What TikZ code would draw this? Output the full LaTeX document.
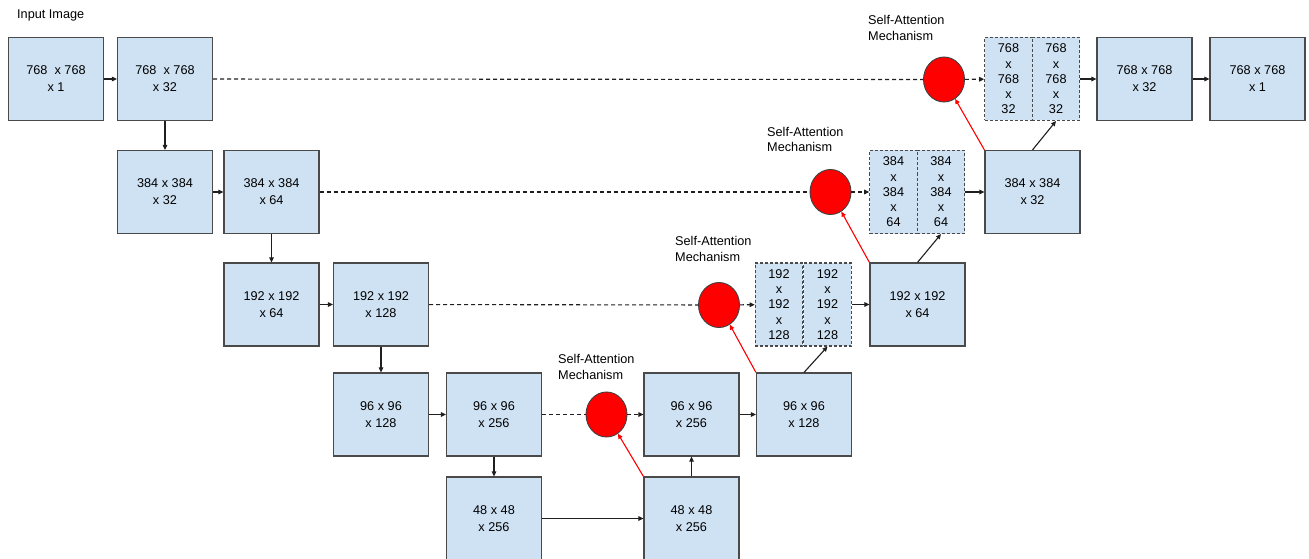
\documentclass[tikz,border=0pt]{standalone}
\usepackage{fontspec}
\setmainfont{Liberation Sans}
\usetikzlibrary{arrows.meta,shapes.geometric}
\definecolor{boxfill}{HTML}{CFE2F3}
\definecolor{boxline}{HTML}{4A4A4A}
\definecolor{attred}{HTML}{FF0000}
\definecolor{lnk}{HTML}{1F1F1F}
\begin{document}
\begin{tikzpicture}[x=1pt,y=-1pt,
  blk/.style={draw=boxline,fill=boxfill,line width=1.2pt,minimum width=95pt,minimum height=83pt,inner sep=0pt,align=center,font=\fontsize{12.7}{17}\selectfont},
  cat/.style={draw=boxline,fill=boxfill,line width=1.1pt,dash pattern=on 3pt off 2pt,minimum width=47.5pt,minimum height=83pt,inner sep=0pt,align=center,font=\fontsize{12.7}{15.3}\selectfont},
  att/.style={ellipse,draw=black!75,fill=attred,line width=0.9pt,minimum width=41pt,minimum height=45pt,inner sep=0pt},
  lbl/.style={anchor=west,align=left,inner sep=0pt,font=\fontsize{12.7}{15.5}\selectfont},
  tip/.style={-{Triangle[length=5pt,width=4.5pt]}},
  conn/.style={draw=lnk,line width=1.1pt,tip},
  skip/.style={draw=lnk,line width=1.1pt,dash pattern=on 4pt off 3pt},
  skiparrow/.style={skip,tip},
  attarrow/.style={draw=attred,line width=1.1pt,tip}
]
\useasboundingbox (0,0) rectangle (1309,559);
\clip (0,0) rectangle (1309,559);
\fill[white] (0,0) rectangle (1309,559);

\node[lbl] (inlbl) at (17,15) {Input Image};

% row 1
\node[blk] (A1) at (56,79) {768~ x 768\\x 1};
\node[blk] (A2) at (165,79) {768~ x 768\\x 32};
\node[att] (circ1) at (944,79.5) {};
\node[cat] (cat1L) at (1008.5,79) {768\\x\\768\\x\\32};
\node[cat] (cat1R) at (1056,79) {768\\x\\768\\x\\32};
\node[blk] (A3) at (1144.5,79) {768 x 768\\x 32};
\node[blk] (A4) at (1257.5,79) {768 x 768\\x 1};
\node[lbl] (sa1) at (868,28) {Self-Attention\\Mechanism};

% row 2
\node[blk] (B1) at (165,192) {384 x 384\\x 32};
\node[blk] (B2) at (271.5,192) {384 x 384\\x 64};
\node[att] (circ2) at (830.5,192) {};
\node[cat] (cat2L) at (893.5,192) {384\\x\\384\\x\\64};
\node[cat] (cat2R) at (941,192) {384\\x\\384\\x\\64};
\node[blk] (B3) at (1032.5,192) {384 x 384\\x 32};
\node[lbl] (sa2) at (767,139.5) {Self-Attention\\Mechanism};

% row 3
\node[blk] (C1) at (271.5,304.5) {192 x 192\\x 64};
\node[blk] (C2) at (381,304.5) {192 x 192\\x 128};
\node[att] (circ3) at (719,305) {};
\node[cat] (cat3L) at (779,304.5) {192\\x\\192\\x\\128};
\node[cat] (cat3R) at (827.5,304.5) {192\\x\\192\\x\\128};
\node[blk] (C3) at (917.5,304.5) {192 x 192\\x 64};
\node[lbl] (sa3) at (675,249) {Self-Attention\\Mechanism};

% row 4
\node[blk] (D1) at (381,414.5) {96 x 96\\x 128};
\node[blk] (D2) at (494,414.5) {96 x 96\\x 256};
\node[att] (circ4) at (606.5,414.5) {};
\node[blk] (D3) at (691.5,414.5) {96 x 96\\x 256};
\node[blk] (D4) at (804,414.5) {96 x 96\\x 128};
\node[lbl] (sa4) at (558,367) {Self-Attention\\Mechanism};

% row 5
\node[blk] (E1) at (494,518.5) {48 x 48\\x 256};
\node[blk] (E2) at (691.5,518.5) {48 x 48\\x 256};

% encoder connectors
\draw[conn] (A1) -- (A2);
\draw[conn] (A2) -- (B1);
\draw[conn] (B1) -- (B2);
\draw[conn] (B2) -- (C1);
\draw[conn] (C1) -- (C2);
\draw[conn] (C2) -- (D1);
\draw[conn] (D1) -- (D2);
\draw[conn] (D2) -- (E1);
\draw[conn] (E1) -- (E2);
\draw[conn] (E2) -- (D3);

% skip connections
\draw[skip] (A2) -- (circ1);
\draw[skiparrow] (circ1) -- (cat1L);
\draw[skip] (B2) -- (circ2);
\draw[skiparrow] (circ2) -- (cat2L);
\draw[skip] (C2) -- (circ3);
\draw[skiparrow] (circ3) -- (cat3L);
\draw[skip] (D2) -- (circ4);
\draw[skiparrow] (circ4) -- (D3);

% attention gating
\draw[attarrow] (E2.north west) -- (circ4);
\draw[attarrow] (D4.north west) -- (circ3);
\draw[attarrow] (C3.north west) -- (circ2);
\draw[attarrow] (B3.north west) -- (circ1);

% decoder connectors
\draw[conn] (D3) -- (D4);
\draw[conn] (D4.north) -- (cat3R.south);
\draw[conn] (cat3R) -- (C3);
\draw[conn] (C3.north) -- (cat2R.south);
\draw[conn] (cat2R) -- (B3);
\draw[conn] (B3.north) -- (cat1R.south);
\draw[conn] (cat1R) -- (A3);
\draw[conn] (A3) -- (A4);
\end{tikzpicture}
\end{document}
